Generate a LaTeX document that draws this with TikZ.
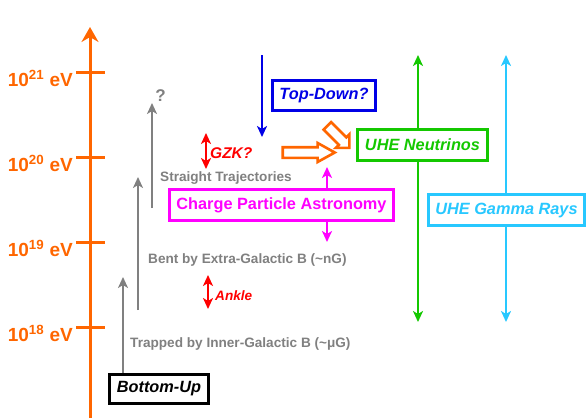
\documentclass[tikz,border=0pt]{standalone}
\usepackage{fontspec}
\setmainfont{Liberation Sans}
\usetikzlibrary{arrows.meta,shapes.arrows,calc}
\definecolor{ueorange}{RGB}{255,102,0}
\definecolor{uegray}{RGB}{128,128,128}
\definecolor{uered}{RGB}{255,0,0}
\definecolor{ueblue}{RGB}{0,0,230}
\definecolor{uegreen}{RGB}{20,200,0}
\definecolor{uecyan}{RGB}{40,200,255}
\definecolor{uemag}{RGB}{255,0,255}
\tikzset{
  >={Stealth[length=11pt,width=10pt,inset=3pt]},
  axisline/.style={ueorange,line width=3pt,-{Stealth[length=15pt,width=17pt,inset=5pt]}},
  tickline/.style={ueorange,line width=3pt},
  ticklbl/.style={text=ueorange,font=\fontsize{19}{22}\selectfont\bfseries,
    anchor=base east,inner sep=0pt},
  garrow/.style={->,uegray,line width=2.5pt},
  glbl/.style={text=uegray,font=\fontsize{13.6}{16}\selectfont\bfseries,
    anchor=west,inner sep=0pt},
  rlbl/.style={text=uered,font=\fontsize{13.6}{16}\selectfont\bfseries\itshape,
    anchor=west,inner sep=0pt},
  rarrow/.style={<->,uered,line width=2pt},
  flow/.style={->,line width=2pt},
  sbox/.style={draw,line width=3pt,fill=white,
    font=\fontsize{16.3}{19}\selectfont\bfseries\itshape,inner sep=2pt},
  hollow/.style={single arrow,draw=ueorange,fill=white,line width=2.6pt,
    inner sep=4pt,minimum width=16.5pt,single arrow head extend=4.25pt,
    single arrow tip angle=58},
}
\begin{document}
\begin{tikzpicture}[x=1pt,y=-1pt]
  \useasboundingbox (0,0) rectangle (588,418);
  % energy axis
  \coordinate (axbot) at (90,418);
  \coordinate (axtop) at (90,27);
  \draw[axisline] (axbot) -- (axtop);
  \foreach \e/\y in {18/327,19/242,20/157,21/72}{
    \draw[tickline] (76,\y) -- (105,\y);
    \node[ticklbl] (e\e) at (73,\y+14) {10\textsuperscript{\e} eV};
  }
  % boxes
  \node[sbox,draw=black,minimum width=99pt,minimum height=29pt] (bu) at (159,389) {Bottom-Up};
  \node[sbox,draw=ueblue,text=ueblue,minimum width=103pt,minimum height=30pt] (td) at (324,95.5) {Top-Down?};
  \node[sbox,draw=uemag,text=uemag,font=\fontsize{16.3}{19}\selectfont\bfseries,
    minimum width=224pt,minimum height=31pt] (cpa) at (281.5,205) {Charge Particle Astronomy};
  \node[sbox,draw=uegreen,text=uegreen,minimum width=130pt,minimum height=31pt] (neu) at (422.5,145) {UHE Neutrinos};
  \node[sbox,draw=uecyan,text=uecyan,minimum width=156pt,minimum height=31pt] (gam) at (506.5,210) {UHE Gamma Rays};
  % propagation regimes
  \coordinate (g1) at (123,277);
  \coordinate (g2a) at (138,310);
  \coordinate (g2b) at (138,177);
  \coordinate (g3a) at (152,208);
  \coordinate (g3b) at (152,103);
  \draw[garrow] (bu.north -| g1) -- (g1);
  \draw[garrow] (g2a) -- (g2b);
  \draw[garrow] (g3a) -- (g3b);
  \node[text=uegray,font=\fontsize{17}{20}\selectfont\bfseries,inner sep=0pt] (qm) at (160.5,96) {?};
  \node[glbl] (st) at (160,178) {Straight Trajectories};
  \node[glbl] (bent) at (148,260) {Bent by Extra-Galactic B (\textasciitilde nG)};
  \node[glbl] (trap) at (130,344) {Trapped by Inner-Galactic B (\textasciitilde μG)};
  % spectral features
  \coordinate (gzka) at (206,133);
  \coordinate (gzkb) at (206,169);
  \draw[rarrow] (gzka) -- (gzkb);
  \node[rlbl,font=\fontsize{15.5}{18}\selectfont\bfseries\itshape] (gzk) at (210,153) {GZK?};
  \coordinate (anka) at (208,275);
  \coordinate (ankb) at (208,309);
  \draw[rarrow] (anka) -- (ankb);
  \node[rlbl] (ank) at (215,296) {Ankle};
  % top-down
  \coordinate (tda) at (262,55);
  \coordinate (tdb) at (262,137);
  \draw[flow,ueblue] (tda) -- (tdb);
  \node[hollow,minimum height=52pt] (hz) at (304,152.5) {};
  \node[hollow,single arrow tip angle=90,minimum height=31pt,rotate=-45] (hd) at (336.5,135) {};
  % charged particles
  \coordinate (cpup) at (327,167);
  \coordinate (cpdn) at (327,242);
  \draw[flow,uemag] (cpa.north -| cpup) -- (cpup);
  \draw[flow,uemag] (cpa.south -| cpdn) -- (cpdn);
  % neutral messengers
  \coordinate (nutop) at (418,55);
  \coordinate (nubot) at (418,322);
  \draw[flow,uegreen] (neu.north -| nutop) -- (nutop);
  \draw[flow,uegreen] (neu.south -| nubot) -- (nubot);
  \coordinate (gatop) at (506,55);
  \coordinate (gabot) at (506,322);
  \draw[flow,uecyan] (gam.north -| gatop) -- (gatop);
  \draw[flow,uecyan] (gam.south -| gabot) -- (gabot);
\end{tikzpicture}
\end{document}
